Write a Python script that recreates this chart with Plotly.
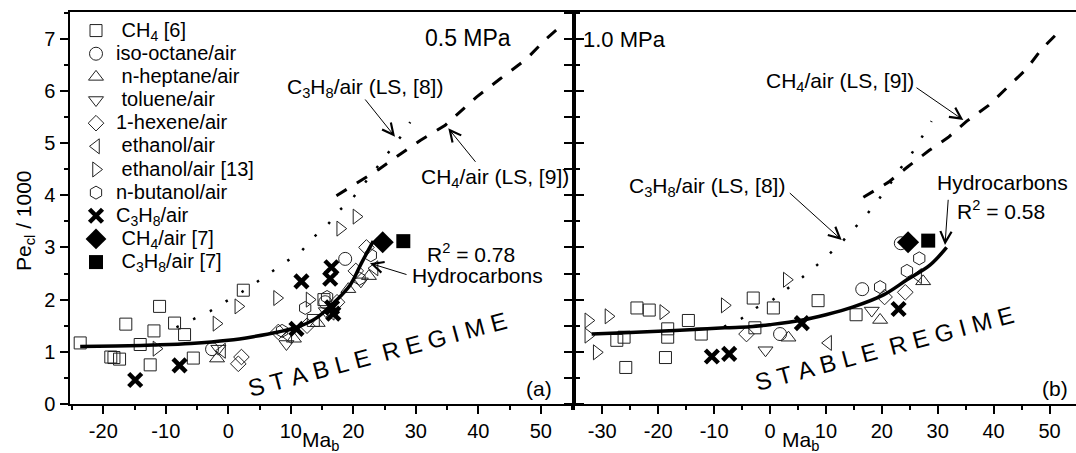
import plotly.graph_objects as go

# ---------------- data : panel (a) 0.5 MPa ----------------
a_ch4_6_x = [-23.7, -18.8, -18.3, -17.4, -16.4, -14.1, -12.5, -11.9, -11.0, -8.6, -7.0, -5.6, 2.4, 13.6, 15.3]
a_ch4_6_y = [1.17, 0.90, 0.89, 0.86, 1.53, 1.14, 0.75, 1.40, 1.87, 1.55, 1.33, 0.88, 2.18, 1.60, 2.00]
a_isooct_x = [-2.6, 15.5, 18.7]
a_isooct_y = [1.05, 1.95, 2.78]
a_hept_x = [-1.8, 10.5, 14.3, 19.2, 22.5]
a_hept_y = [0.87, 1.25, 1.55, 2.20, 2.45]
a_tol_x = [-1.6, 9.3, 15.6, 21.2]
a_tol_y = [1.06, 1.15, 1.78, 2.35]
a_hex_x = [2.1, 1.6, 8.0, 12.6, 17.4, 20.4, 22.1]
a_hex_y = [0.90, 0.77, 1.38, 1.50, 1.95, 2.55, 3.00]
a_eth_x = [-1.0, 9.6, 16.4, 23.4]
a_eth_y = [1.02, 1.30, 1.75, 2.60]
a_eth13_x = [-11.5, -1.9, 1.6, 7.8, 13.0, 17.9, 20.5]
a_eth13_y = [1.06, 1.54, 1.87, 2.03, 2.00, 3.36, 3.59]
a_but_x = [8.6, 12.3, 15.8, 21.0, 22.8]
a_but_y = [1.40, 1.84, 2.05, 2.40, 2.85]
a_c3h8_x = [-14.9, -7.8, 10.9, 11.7, 16.3, 16.5, 16.6, 16.8]
a_c3h8_y = [0.46, 0.74, 1.44, 2.35, 2.40, 2.62, 1.85, 1.73]
a_ch4_7_x = [24.7]
a_ch4_7_y = [3.10]
a_c3h8_7_x = [28.0]
a_c3h8_7_y = [3.12]
a_fit_x = [-23.7, -18.0, -12.0, -6.0, 0.0, 4.0, 8.0, 11.0, 14.0, 16.8, 19.5, 21.3, 23.2]
a_fit_y = [1.10, 1.11, 1.13, 1.16, 1.22, 1.29, 1.38, 1.47, 1.64, 1.93, 2.28, 2.70, 3.12]
a_ls9_x = [17.3, 20.8, 24.0, 27.2, 30.7, 34.7, 39.7, 43.5, 47.7, 50.9, 53.3]
a_ls9_y = [3.99, 4.25, 4.49, 4.76, 5.05, 5.34, 5.88, 6.23, 6.61, 7.00, 7.25]
a_ls8_x = [-8.3, -5.6, -2.9, -0.3, 2.1, 4.5, 6.9, 9.3, 11.7, 13.7, 16.0, 17.8, 20.0, 22.8, 25.6, 27.5, 29.1]
a_ls8_y = [1.47, 1.62, 1.78, 1.97, 2.14, 2.33, 2.53, 2.73, 2.93, 3.20, 3.45, 3.71, 3.96, 4.38, 4.82, 5.11, 5.40]
a_xtick_vals = [-20, -10, 0, 10, 20, 30, 40, 50]
a_xtick_text = ["-20", "-10", "0", "10", "20", "30", "40", "50"]

# ---------------- data : panel (b) 1.0 MPa ----------------
b_ch4_6_x = [-27.4, -26.1, -25.8, -23.8, -21.6, -18.3, -18.3, -18.7, -14.6, -12.3, -3.0, -2.7, 0.6, 8.6, 15.4]
b_ch4_6_y = [1.22, 1.28, 0.70, 1.84, 1.80, 1.44, 1.28, 0.89, 1.60, 1.34, 2.03, 1.46, 1.84, 1.98, 1.71]
b_isooct_x = [1.8, 16.5, 23.4]
b_isooct_y = [1.34, 2.20, 3.08]
b_hept_x = [3.3, 19.7, 27.4]
b_hept_y = [1.27, 1.61, 2.35]
b_tol_x = [-0.8, 18.2]
b_tol_y = [1.03, 1.79]
b_hex_x = [-4.2, 20.5, 24.2]
b_hex_y = [1.34, 2.05, 2.14]
b_eth_x = [10.4, 26.5]
b_eth_y = [1.17, 2.45]
b_eth13_x = [-32.5, -32.5, -31.0, -28.9, -19.1, -8.1, 3.0]
b_eth13_y = [1.60, 1.31, 0.99, 1.68, 1.76, 1.89, 2.38]
b_but_x = [19.7, 24.5, 26.7]
b_but_y = [2.24, 2.55, 2.79]
b_c3h8_x = [-10.4, -7.3, 5.7, 23.0]
b_c3h8_y = [0.91, 0.96, 1.55, 1.82]
b_ch4_7_x = [24.7]
b_ch4_7_y = [3.10]
b_c3h8_7_x = [28.3]
b_c3h8_7_y = [3.13]
b_fit_x = [-31.9, -25.0, -17.0, -8.1, -3.6, 0.0, 5.4, 10.0, 14.9, 20.3, 24.5, 28.6, 31.6]
b_fit_y = [1.34, 1.37, 1.41, 1.46, 1.48, 1.52, 1.60, 1.71, 1.86, 2.09, 2.38, 2.66, 3.00]
b_ls9_x = [16.7, 21.2, 24.7, 28.5, 31.9, 35.2, 39.1, 42.6, 45.9, 48.6, 51.6, 52.2]
b_ls9_y = [3.96, 4.25, 4.55, 4.86, 5.11, 5.42, 5.72, 6.08, 6.42, 6.80, 7.14, 7.19]
b_ls8_x = [-8.2, -5.2, -2.5, 0.3, 3.1, 5.8, 8.4, 10.6, 13.0, 15.2, 17.4, 19.5, 21.5, 23.4, 25.3, 27.1, 28.9]
b_ls8_y = [1.48, 1.63, 1.84, 1.98, 2.21, 2.43, 2.66, 2.87, 3.12, 3.38, 3.64, 3.93, 4.22, 4.52, 4.79, 5.10, 5.42]
b_xtick_vals = [-30, -20, -10, 0, 10, 20, 30, 40, 50]
b_xtick_text = ["-30", "-20", "-10", "0", "10", "20", "30", "40", "50"]

series_names = [
    "\u00a0CH<sub>4</sub> [6]", "iso-octane/air", "\u00a0n-heptane/air", "\u00a0toluene/air",
    "1-hexene/air", "\u00a0ethanol/air", "\u00a0ethanol/air [13]", "n-butanol/air",
    "C<sub>3</sub>H<sub>8</sub>/air", "\u00a0CH<sub>4</sub>/air [7]", "\u00a0C<sub>3</sub>H<sub>8</sub>/air [7]",
]
a_sets = [(a_ch4_6_x, a_ch4_6_y), (a_isooct_x, a_isooct_y), (a_hept_x, a_hept_y), (a_tol_x, a_tol_y),
          (a_hex_x, a_hex_y), (a_eth_x, a_eth_y), (a_eth13_x, a_eth13_y), (a_but_x, a_but_y),
          (a_c3h8_x, a_c3h8_y), (a_ch4_7_x, a_ch4_7_y), (a_c3h8_7_x, a_c3h8_7_y)]
b_sets = [(b_ch4_6_x, b_ch4_6_y), (b_isooct_x, b_isooct_y), (b_hept_x, b_hept_y), (b_tol_x, b_tol_y),
          (b_hex_x, b_hex_y), (b_eth_x, b_eth_y), (b_eth13_x, b_eth13_y), (b_but_x, b_but_y),
          (b_c3h8_x, b_c3h8_y), (b_ch4_7_x, b_ch4_7_y), (b_c3h8_7_x, b_c3h8_7_y)]

styles = [
    dict(symbol="square-open", size=12, color="#222", line=dict(width=1, color="#222")),
    dict(symbol="circle-open", size=13, color="#222", line=dict(width=1, color="#222")),
    dict(symbol="triangle-up-open", size=13, color="#222", line=dict(width=1, color="#222")),
    dict(symbol="triangle-down-open", size=13, color="#222", line=dict(width=1, color="#222")),
    dict(symbol="diamond-open", size=12, color="#222", line=dict(width=1, color="#222")),
    dict(symbol="triangle-left-open", size=13, color="#222", line=dict(width=1, color="#222")),
    dict(symbol="triangle-right-open", size=13, color="#222", line=dict(width=1, color="#222")),
    dict(symbol="hexagon-open", size=13, color="#222", line=dict(width=1, color="#222")),
    dict(symbol="x-thin", size=13, color="black", line=dict(width=4.5, color="black")),
    dict(symbol="diamond", size=17, color="black", line=dict(width=0)),
    dict(symbol="square", size=14, color="black", line=dict(width=0)),
]

FONT = "Liberation Sans, Arial, sans-serif"
fig = go.Figure()

for nm, st, (ax_, ay_) in zip(series_names, styles, a_sets):
    fig.add_trace(go.Scatter(x=ax_, y=ay_, mode="markers", marker=st, xaxis="x", yaxis="y",
                             name='<span style="font-size:20px">' + nm + '</span>', showlegend=True))
for nm, st, (bx_, by_) in zip(series_names, styles, b_sets):
    fig.add_trace(go.Scatter(x=bx_, y=by_, mode="markers", marker=st, xaxis="x2", yaxis="y2",
                             name=nm, showlegend=False))

line_dash = dict(color="black", width=3, dash="12px,12px")
line_dot = dict(color="black", width=2.5, dash="2.5px,16px")
line_fit = dict(color="black", width=3.5, shape="spline")
for (xx, yy, ln, xa, ya) in [
    (a_ls9_x, a_ls9_y, line_dash, "x", "y"), (a_ls8_x, a_ls8_y, line_dot, "x", "y"),
    (a_fit_x, a_fit_y, line_fit, "x", "y"),
    (b_ls9_x, b_ls9_y, line_dash, "x2", "y2"), (b_ls8_x, b_ls8_y, line_dot, "x2", "y2"),
    (b_fit_x, b_fit_y, line_fit, "x2", "y2")]:
    fig.add_trace(go.Scatter(x=xx, y=yy, mode="lines", line=ln, xaxis=xa, yaxis=ya,
                             showlegend=False, hoverinfo="skip"))

# ---- layout helpers (pixel -> paper) ----
L, T, B, W = 70, 12, 404, 1006
def px(x):
    return (x - L) / W
def py(y):
    return (B - y) / (B - T)

axis_common = dict(showline=True, linecolor="black", linewidth=1.5, showgrid=False, zeroline=False,
                   ticks="outside", ticklen=8, tickwidth=1.5, tickcolor="black",
                   tickfont=dict(size=20, family=FONT, color="black"))
split = 504 / 1006
minor_x = dict(dtick=5, tick0=0, ticks="outside", ticklen=4, tickwidth=1.5, tickcolor="black")
fig.update_layout(
    width=1076, height=453,
    margin=dict(l=L, r=0, t=T, b=453 - B),
    plot_bgcolor="white", paper_bgcolor="white",
    font=dict(family=FONT, size=20, color="black"),
    xaxis=dict(domain=[0, split], range=[-25.33, 55.31], tickmode="array", tickvals=a_xtick_vals,
               ticktext=a_xtick_text, anchor="y", mirror=True, minor=minor_x, **axis_common),
    xaxis2=dict(domain=[split, 1], range=[-35.06, 54.74], tickmode="array", tickvals=b_xtick_vals,
                ticktext=b_xtick_text, anchor="y2", mirror=True, minor=minor_x, **axis_common),
    yaxis=dict(domain=[0, 1], range=[0, 7.51], dtick=1, tick0=0, anchor="x", mirror="ticks",
               ticklabelstandoff=1,
               minor=dict(dtick=0.5, ticks="outside", ticklen=4, tickwidth=1.5, tickcolor="black"), **axis_common),
    yaxis2=dict(domain=[0, 1], range=[0, 7.51], dtick=0.5, tick0=0, anchor="x2", showticklabels=False,
                **axis_common),
    legend=dict(x=px(76), y=py(14), xanchor="left", yanchor="top", bgcolor="rgba(0,0,0,0)",
                font=dict(size=15.5, family=FONT, color="black"), tracegroupgap=0, borderwidth=0),
)

def txt(s, x, y, size=21, angle=0):
    fig.add_annotation(text=s, x=px(x), y=py(y), xref="paper", yref="paper", showarrow=False,
                       xanchor="center", yanchor="middle", textangle=angle,
                       font=dict(size=size, family=FONT, color="black"))

def arrow(tail, tip):
    fig.add_annotation(text="", x=px(tip[0]), y=py(tip[1]), xref="paper", yref="paper",
                       ax=tail[0] - tip[0], ay=tail[1] - tip[1], showarrow=True,
                       arrowhead=5, arrowsize=2.2, arrowwidth=1, arrowcolor="black", standoff=0)

stable = "S\u00a0T\u00a0A\u00a0B\u00a0L\u00a0E\u00a0\u00a0R\u00a0E\u00a0G\u00a0I\u00a0M\u00a0E"
# panel (a)
txt("0.5 MPa", 468, 38, 23)
txt("C<sub>3</sub>H<sub>8</sub>/air (LS, [8])", 365, 88)
arrow((364, 98), (395, 136.7))
txt("CH<sub>4</sub>/air (LS, [9])", 495, 178)
arrow((476.7, 163.3), (448.3, 128.3))
txt("R<sup>2</sup> = 0.78", 471, 253)
txt("Hydrocarbons", 477, 275)
arrow((408, 275), (370, 263.3))
txt("(a)", 539, 388)
txt(stable, 377, 354, 24, -15)
# panel (b)
txt("1.0 MPa", 624, 40, 22)
txt("CH<sub>4</sub>/air (LS, [9])", 840, 82)
arrow((915, 86.7), (963.3, 120))
txt("C<sub>3</sub>H<sub>8</sub>/air (LS, [8])", 707, 187)
arrow((788.3, 191.7), (841.7, 240))
txt("Hydrocarbons", 1002, 183)
txt("R<sup>2</sup> = 0.58", 1001, 210)
arrow((948.3, 198.3), (945, 245))
txt("(b)", 1055, 388)
txt(stable, 884, 348, 24, -15)
# axis titles
txt("Pe<sub>cl</sub> / 1000", 25, 221, 21, -90)
txt("Ma<sub>b</sub>", 320, 441, 21)
txt("Ma<sub>b</sub>", 800, 441, 21)

fig.write_html("out.html")
